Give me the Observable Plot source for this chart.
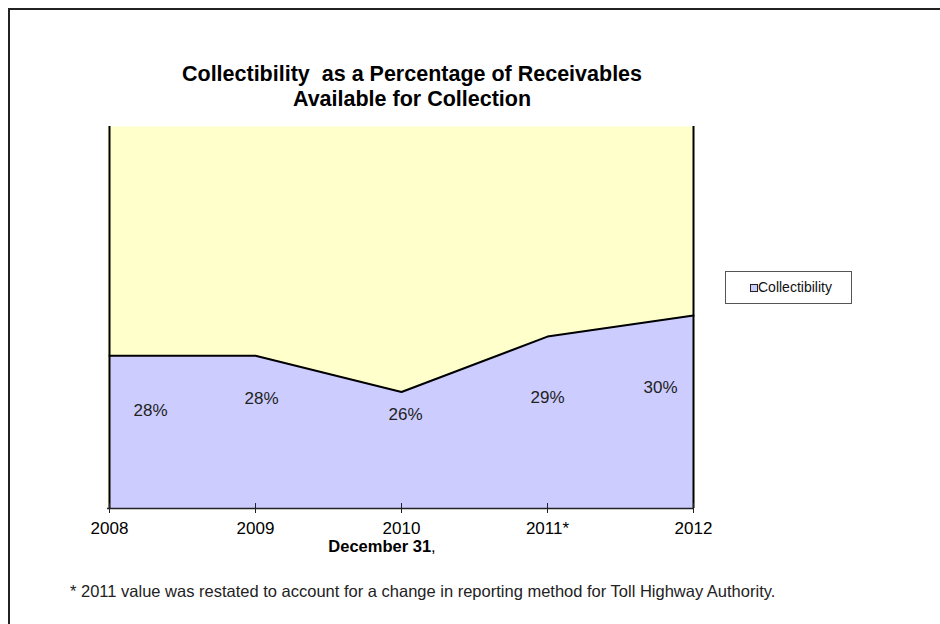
<!DOCTYPE html>
<html>
<head>
<meta charset="utf-8">
<script src="https://cdn.jsdelivr.net/npm/d3@7"></script>
<script src="https://cdn.jsdelivr.net/npm/@observablehq/plot@0.6"></script>
<style>
  html, body { margin: 0; padding: 0; background: #fff; }
  body { width: 940px; height: 624px; position: relative; overflow: hidden; font-family: Arial, "Liberation Sans", sans-serif; }
  #frame { position: absolute; left: 8px; top: 8px; width: 1000px; height: 1000px; border: 2px solid #222; box-sizing: border-box; }
  #chart { position: absolute; left: 0; top: 0; }
  #title { position: absolute; left: 112px; width: 600px; top: 62px; text-align: center; font-weight: bold; font-size: 21.5px; line-height: 25px; color: #000; }
  #xtitle { position: absolute; left: 282px; width: 200px; top: 537px; text-align: center; font-size: 16.5px; line-height: 19px; color: #000; }
  #legend { position: absolute; left: 725px; top: 271px; width: 127px; height: 33px; border: 1px solid #555; box-sizing: border-box; background: #fff; font-size: 14px; color: #111; }
  #legend .sw { position: absolute; left: 24px; top: 12px; width: 6px; height: 6px; border: 1px solid #222; background: #CCCCFF; }
  #legend .lb { position: absolute; left: 32px; top: 7px; line-height: 16px; }
  #note { position: absolute; left: 70px; top: 582px; font-family: "Liberation Sans Narrow", "Arial Narrow", sans-serif; font-size: 16.5px; line-height: 19px; color: #222; white-space: nowrap; }
</style>
</head>
<body>
<div id="frame"></div>
<div id="chart"></div>
<div id="title">Collectibility&nbsp; as a Percentage of Receivables<br>Available for Collection</div>
<div id="xtitle"><b>December 31</b>,</div>
<div id="legend"><div class="sw"></div><div class="lb">Collectibility</div></div>
<div id="note">* 2011 value was restated to account for a change in reporting method for Toll Highway Authority.</div>
<script>
const years = ["2008", "2009", "2010", "2011*", "2012"];
const collectibility = [28.0, 28.0, 26.1, 29.0, 30.1];
const seriesName = "Collectibility";
const yDomain = [20, 40];

const data = years.map((y, i) => ({year: y, value: collectibility[i]}));

// label placement nudges (pixels), mimicking the original's data-label layout
const labelNudge = [[41, 55], [6, 43], [4, 23], [0, 61], [-33, 72]];

const labelMarks = data.map((d, i) =>
  Plot.text([d], {
    x: "year", y: "value",
    text: d => Math.round(d.value) + "%",
    dx: labelNudge[i][0], dy: labelNudge[i][1],
    fontSize: 17, fill: "#222", fontFamily: "Arial, 'Liberation Sans', sans-serif"
  })
);

const chart = Plot.plot({
  width: 940,
  height: 624,
  marginLeft: 107,
  marginRight: 246,
  marginTop: 126,
  marginBottom: 116,
  style: {fontFamily: "Arial, 'Liberation Sans', sans-serif", fontSize: "17px", color: "#000", background: "transparent"},
  x: {type: "point", domain: years, padding: 0, label: null},
  y: {domain: yDomain, axis: null},
  marks: [
    Plot.frame({fill: "#FFFFCC", stroke: null}),
    Plot.areaY(data, {x: "year", y1: yDomain[0], y2: "value", fill: "#CCCCFF"}),
    Plot.lineY(data, {x: "year", y: "value", stroke: "#000", strokeWidth: 2}),
    Plot.ruleX([years[0], years[years.length - 1]], {stroke: "#000", strokeWidth: 2}),
    Plot.ruleY([yDomain[0]], {stroke: "#222", strokeWidth: 1.5}),
    Plot.ruleX(years, {y1: yDomain[0], y2: yDomain[0] + 0.26, stroke: "#222", strokeWidth: 1}),
    Plot.axisX({tickSize: 5, tickPadding: 8, fontSize: 17, stroke: "#222", fill: "#000", label: null}),
    ...labelMarks
  ]
});
document.getElementById("chart").appendChild(chart);
</script>
</body>
</html>
